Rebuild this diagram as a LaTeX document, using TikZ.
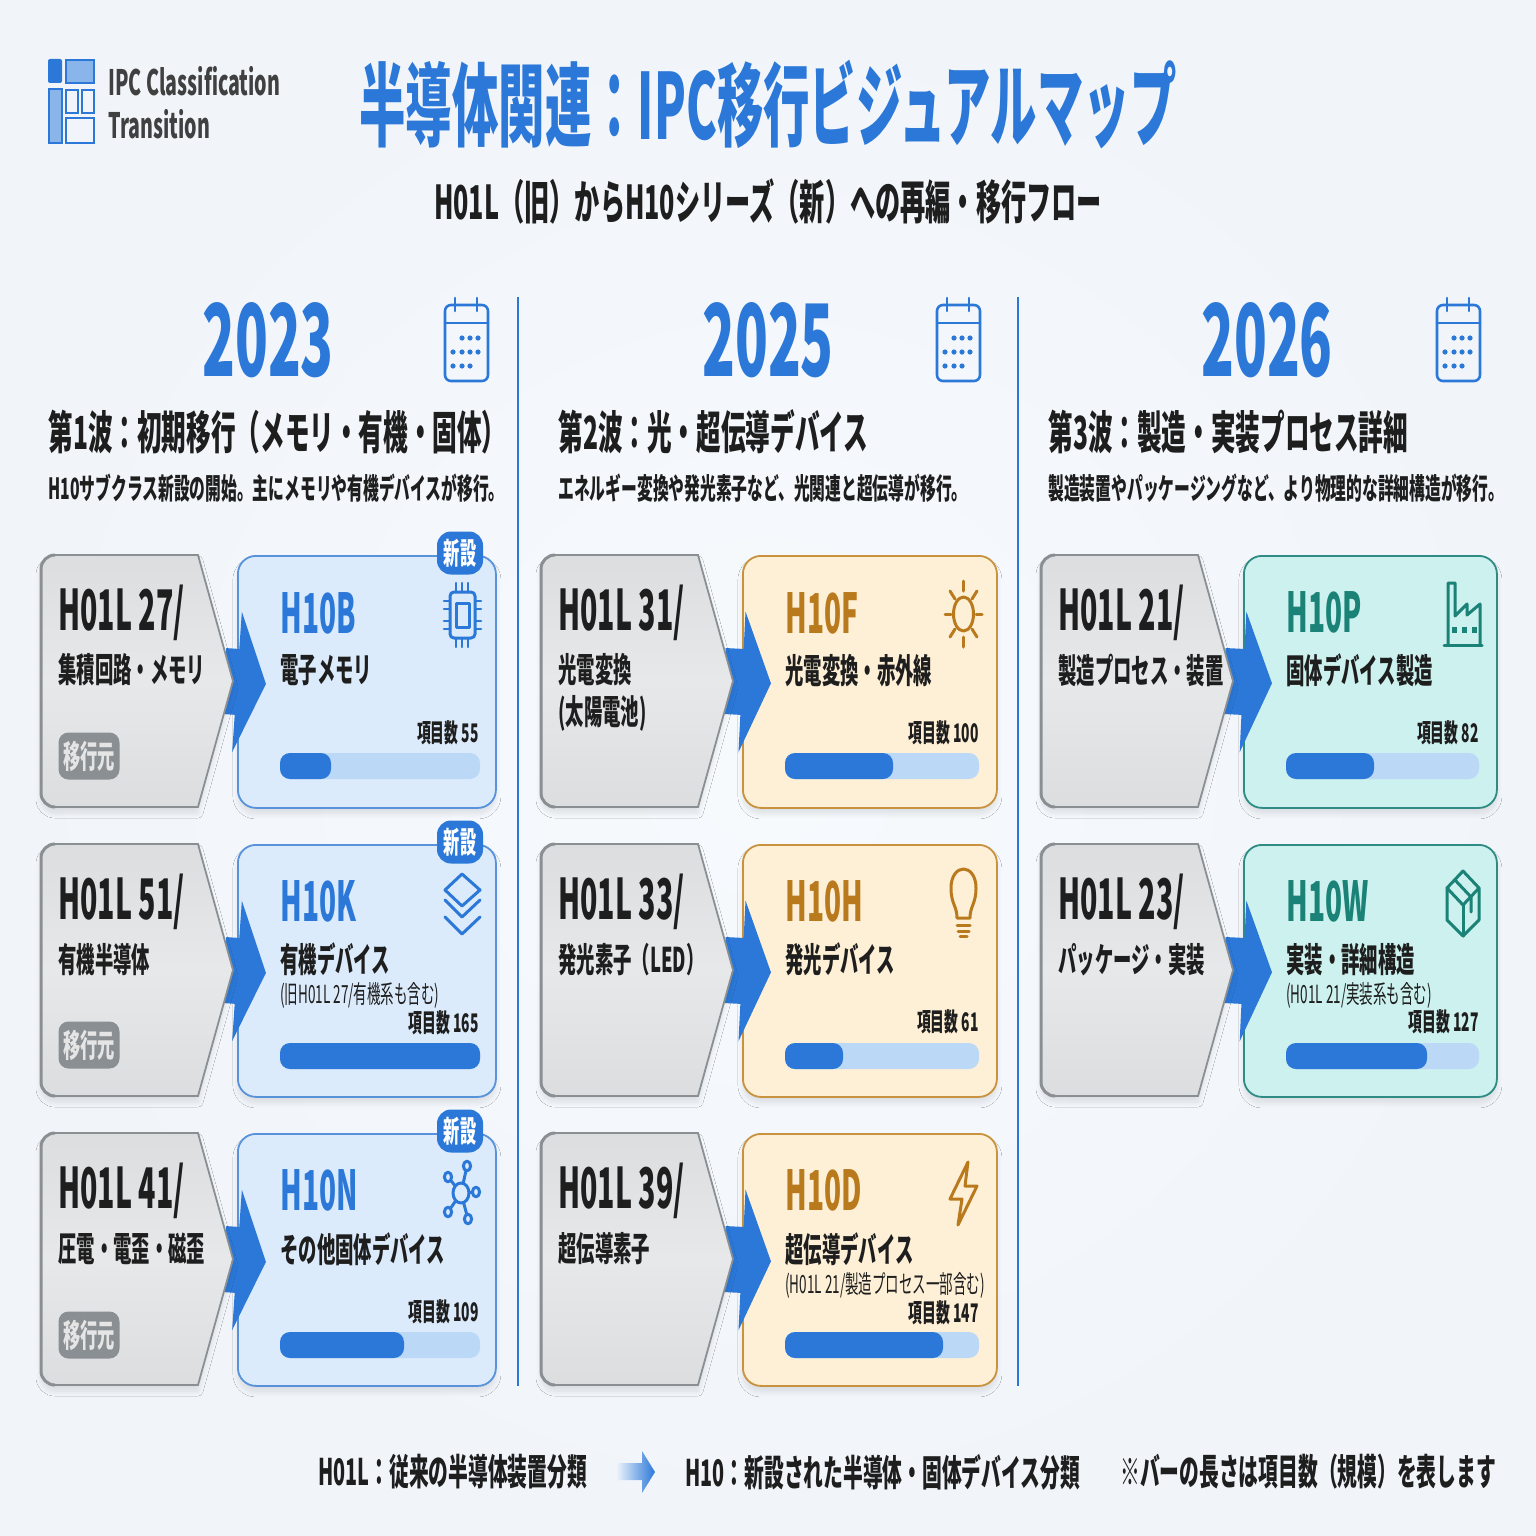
\documentclass[tikz,border=0pt]{standalone}
\usepackage{fontspec}
\usepackage{tikz}
\usetikzlibrary{arrows.meta}
\usetikzlibrary{shadows.blur}
\newfontfamily\jpfont[FakeStretch=0.54]{Noto Sans CJK JP}
\newfontfamily\jpnarrow[FakeStretch=0.51]{Noto Sans CJK JP}
\newfontfamily\jpwide[FakeStretch=0.56]{Noto Sans CJK JP}
\newcommand{\jpsize}[1]{\fontsize{#1}{#1}\selectfont}
\definecolor{paperColor}{HTML}{F1F5FA}
\definecolor{paperLight}{HTML}{F7FAFD}
\definecolor{focusColor}{HTML}{2B78D8}
\definecolor{inkColor}{HTML}{1E1E1E}
\definecolor{trackColor}{HTML}{BBD9F7}
\definecolor{grayEdge}{HTML}{8A8F93}
\definecolor{grayFill}{HTML}{E3E4E6}
\definecolor{blueFill}{HTML}{DCEBFB}
\definecolor{blueEdge}{HTML}{5792DA}
\definecolor{amberFill}{HTML}{FEF0D6}
\definecolor{amberEdge}{HTML}{C8923F}
\definecolor{amberInk}{HTML}{B97A1E}
\definecolor{tealFill}{HTML}{CCF1EE}
\definecolor{tealEdge}{HTML}{2E8C85}
\definecolor{tealInk}{HTML}{1A8276}

\begin{document}
\begin{tikzpicture}[x=0.5pt,y=-0.5pt]

  \tikzstyle{softShadow} = [blur shadow={shadow xshift=0pt,shadow yshift=-3pt,shadow blur radius=2.5pt,shadow blur steps=10,shadow opacity=10}];
  \tikzstyle{baseCard} = [anchor=north west,inner sep=0pt,minimum height=126pt,rounded corners=9pt,line width=0.9pt,softShadow];
  \tikzstyle{blueCard} = [baseCard,draw=blueEdge,fill=blueFill];
  \tikzstyle{amberCard} = [baseCard,draw=amberEdge,fill=amberFill];
  \tikzstyle{tealCard} = [baseCard,draw=tealEdge,fill=tealFill];
  \tikzstyle{grayCard} = [draw=grayEdge,line width=0.9pt,softShadow,top color=grayFill!97!black,bottom color=grayFill!97!black,middle color=grayFill!85!white];
  \tikzstyle{migrateArrow} = [focusColor,line width=33pt,-{Triangle[length=14.5pt,width=70pt]},shorten >=-14.5pt];
  \tikzstyle{plainText} = [inner sep=0pt,text=inkColor];
  \tikzstyle{titleText} = [plainText,text=focusColor,font=\jpnarrow\bfseries\jpsize{45.5pt}];
  \tikzstyle{subText} = [plainText,font=\jpfont\bfseries\jpsize{23.3pt}];
  \tikzstyle{yearText} = [plainText,text=focusColor,font=\jpfont\bfseries\jpsize{50pt}];
  \tikzstyle{waveText} = [plainText,anchor=west,font=\jpfont\bfseries\jpsize{22.8pt}];
  \tikzstyle{descText} = [plainText,anchor=west,font=\jpfont\bfseries\jpsize{14.6pt}];
  \tikzstyle{oldCode} = [plainText,anchor=west,font=\jpnarrow\bfseries\jpsize{28pt}];
  \tikzstyle{newCode} = [plainText,anchor=west,font=\jpnarrow\bfseries\jpsize{27.5pt}];
  \tikzstyle{nameText} = [plainText,anchor=west,font=\jpfont\bfseries\jpsize{17pt}];
  \tikzstyle{noteText} = [plainText,anchor=west,font=\jpfont\jpsize{12.5pt}];
  \tikzstyle{countText} = [plainText,anchor=east,font=\jpfont\bfseries\jpsize{12.8pt}];
  \tikzstyle{legendText} = [plainText,anchor=west,font=\jpfont\bfseries\jpsize{18.3pt}];
  \tikzstyle{logoText} = [plainText,anchor=west,text=inkColor!85,font=\jpwide\bfseries\jpsize{17.5pt}];
  \tikzstyle{oldBadge} = [fill=grayEdge,rounded corners=5pt,inner sep=0pt,minimum width=30.5pt,minimum height=23.5pt,text=white!90!black,font=\jpfont\bfseries\jpsize{16pt}];
  \tikzstyle{newBadge} = [fill=focusColor,rounded corners=7pt,inner sep=0pt,minimum width=23pt,minimum height=21.5pt,text=white,font=\jpfont\bfseries\jpsize{15pt}];
  \tikzstyle{blueIcon} = [focusColor,line width=1.5pt,line cap=round,line join=round];
  \tikzstyle{amberIcon} = [amberInk,line width=1.5pt,line cap=round,line join=round];
  \tikzstyle{tealIcon} = [tealInk,line width=1.5pt,line cap=round,line join=round];

  % page
  \shade[inner color=paperLight,outer color=paperColor] (0,0) rectangle (1536,1536);

  % header
  \fill[focusColor,rounded corners=1pt] (48,59) rectangle (62,83);
  \filldraw[draw=focusColor,fill=focusColor!55,line width=1pt] (66,60) rectangle (94,83);
  \filldraw[draw=focusColor,fill=focusColor!55,line width=1pt] (49,89) rectangle (62,143);
  \draw[focusColor,line width=1pt] (66,90) rectangle (78,113);
  \draw[focusColor,line width=1pt] (82,90) rectangle (94,113);
  \draw[focusColor,line width=1pt] (66,118) rectangle (94,143);
  \node[logoText] (logoA) at (108,81) {IPC Classification};
  \node[logoText] (logoB) at (108,124) {Transition};
  \node[titleText] (title) at (768,105) {半導体関連：IPC移行ビジュアルマップ};
  \node[subText] (subtitle) at (768,201) {H01L（旧）からH10シリーズ（新）への再編・移行フロー};

  % columns
  \draw[focusColor,line width=1pt] (518,297) -- (518,1386);
  \draw[focusColor,line width=1pt] (1018,297) -- (1018,1386);
  \node[yearText] (year23) at (268,340) {2023};
  \node[yearText] (year25) at (768,340) {2025};
  \node[yearText] (year26) at (1267,340) {2026};
  \foreach \x in {0,492,992} {
    \begin{scope}[shift={(\x,0)}]
      \draw[blueIcon,line width=1.3pt,rounded corners=3pt] (445,305) rectangle (488,381);
      \draw[blueIcon,line width=1.3pt] (445,323) -- (488,323);
      \draw[blueIcon,line width=1.3pt] (455,298) -- (455,311);
      \draw[blueIcon,line width=1.3pt] (477,298) -- (477,311);
      \foreach \dx/\dy in {462/338,470/338,478/338,453/352,462/352,470/352,478/352,453/366,462/366,470/366}
        \fill[focusColor] (\dx,\dy) circle (1.3pt);
    \end{scope}
  }
  \node[waveText] (waveA) at (48,432) {第1波：初期移行（メモリ・有機・固体）};
  \node[waveText] (waveB) at (558,432) {第2波：光・超伝導デバイス};
  \node[waveText] (waveC) at (1048,432) {第3波：製造・実装プロセス詳細};
  \node[descText] (descA) at (48,488) {H10サブクラス新設の開始。主にメモリや有機デバイスが移行。};
  \node[descText] (descB) at (558,488) {エネルギー変換や発光素子など、光関連と超伝導が移行。};
  \node[descText] (descC) at (1048,488) {製造装置やパッケージングなど、より物理的な詳細構造が移行。};

  % new cards
  \node[blueCard,minimum width=129pt] (dstB) at (237,555) {};
  \node[blueCard,minimum width=129pt] (dstK) at (237,844) {};
  \node[blueCard,minimum width=129pt] (dstN) at (237,1133) {};
  \node[amberCard,minimum width=127pt] (dstF) at (742,555) {};
  \node[amberCard,minimum width=127pt] (dstH) at (742,844) {};
  \node[amberCard,minimum width=127pt] (dstD) at (742,1133) {};
  \node[tealCard,minimum width=126.5pt] (dstP) at (1243,555) {};
  \node[tealCard,minimum width=126.5pt] (dstW) at (1243,844) {};

  % arrows, then the old cards over their tails
  \foreach \n/\x/\y in {B/224/681,K/224/970,N/224/1259,F/724/681,H/724/970,D/724/1259,P/1224/681,W/1224/970} {
    \coordinate (src\n) at (\x,\y);
    \draw[migrateArrow] (src\n) -- (dst\n.west);
  }
  \foreach \x/\y in {41/555,41/844,41/1133,541/555,541/844,541/1133,1041/555,1041/844} {
    \draw[grayCard] (\x+157,\y) -- (\x+192,\y+126) -- (\x+157,\y+252) [rounded corners=7pt] -- (\x,\y+252) -- (\x,\y) [sharp corners] -- cycle;
    \draw[grayEdge,line width=1.5pt,rounded corners=7pt] (\x+14,\y) -- (\x,\y) -- (\x,\y+252) -- (\x+14,\y+252);
  }

  % old card texts
  \node[oldCode] (old27) at (58,613) {H01L 27/};
  \node[nameText] (oldName27) at (58,670) {集積回路・メモリ};
  \node[oldBadge] (from27) at (89,756) {移行元};
  \node[oldCode] (old51) at (58,902) {H01L 51/};
  \node[nameText] (oldName51) at (58,960) {有機半導体};
  \node[oldBadge] (from51) at (89,1045) {移行元};
  \node[oldCode] (old41) at (58,1191) {H01L 41/};
  \node[nameText] (oldName41) at (58,1249) {圧電・電歪・磁歪};
  \node[oldBadge] (from41) at (89,1335) {移行元};
  \node[oldCode] (old31) at (558,613) {H01L 31/};
  \node[nameText] (oldName31) at (558,670) {光電変換};
  \node[nameText] (oldNote31) at (558,713) {(太陽電池)};
  \node[oldCode] (old33) at (558,902) {H01L 33/};
  \node[nameText] (oldName33) at (558,960) {発光素子（LED）};
  \node[oldCode] (old39) at (558,1191) {H01L 39/};
  \node[nameText] (oldName39) at (558,1249) {超伝導素子};
  \node[oldCode] (old21) at (1058,613) {H01L 21/};
  \node[nameText] (oldName21) at (1058,670) {製造プロセス・装置};
  \node[oldCode] (old23) at (1058,902) {H01L 23/};
  \node[nameText] (oldName23) at (1058,960) {パッケージ・実装};

  % new card texts
  \node[newCode,text=focusColor] (newB) at (280,613) {H10B};
  \node[nameText] (nameB) at (280,670) {電子メモリ};
  \node[countText] (countB) at (479,733) {項目数 55};
  \node[newBadge] (tagB) at (460,553) {新設};
  \node[newCode,text=focusColor] (newK) at (280,901) {H10K};
  \node[nameText] (nameK) at (280,959) {有機デバイス};
  \node[noteText] (noteK) at (280,995) {(旧H01L 27/有機系も含む)};
  \node[countText] (countK) at (479,1023) {項目数 165};
  \node[newBadge] (tagK) at (460,842) {新設};
  \node[newCode,text=focusColor] (newN) at (280,1190) {H10N};
  \node[nameText] (nameN) at (280,1249) {その他固体デバイス};
  \node[countText] (countN) at (479,1312) {項目数 109};
  \node[newBadge] (tagN) at (460,1131) {新設};
  \node[newCode,text=amberInk] (newF) at (785,613) {H10F};
  \node[nameText] (nameF) at (785,671) {光電変換・赤外線};
  \node[countText] (countF) at (979,733) {項目数 100};
  \node[newCode,text=amberInk] (newH) at (785,901) {H10H};
  \node[nameText] (nameH) at (785,959) {発光デバイス};
  \node[countText] (countH) at (979,1022) {項目数 61};
  \node[newCode,text=amberInk] (newD) at (785,1190) {H10D};
  \node[nameText] (nameD) at (785,1249) {超伝導デバイス};
  \node[noteText] (noteD) at (785,1285) {(H01L 21/製造プロセス一部含む)};
  \node[countText] (countD) at (979,1313) {項目数 147};
  \node[newCode,text=tealInk] (newP) at (1286,612) {H10P};
  \node[nameText] (nameP) at (1286,670) {固体デバイス製造};
  \node[countText] (countP) at (1479,733) {項目数 82};
  \node[newCode,text=tealInk] (newW) at (1286,901) {H10W};
  \node[nameText] (nameW) at (1286,960) {実装・詳細構造};
  \node[noteText] (noteW) at (1286,995) {(H01L 21/実装系も含む)};
  \node[countText] (countW) at (1479,1022) {項目数 127};

  % bars
  \foreach \xa/\ya/\xb/\xc in {280/753/480/331,280/1043/480/480,280/1332/480/404,785/753/979/893,785/1043/979/843,785/1332/979/943,1286/753/1479/1374,1286/1043/1479/1427} {
    \fill[trackColor,rounded corners=5pt] (\xa,\ya) rectangle (\xb,\ya+26);
    \fill[focusColor,rounded corners=5pt] (\xa,\ya) rectangle (\xc,\ya+26);
  }

  % icons
  \draw[blueIcon,rounded corners=2pt] (450,592) rectangle (475,638);
  \draw[blueIcon] (456,603) rectangle (469,627);
  \foreach \px in {456,462,468} {
    \draw[blueIcon,line width=1.2pt] (\px,583) -- (\px,592);
    \draw[blueIcon,line width=1.2pt] (\px,638) -- (\px,647);
  }
  \foreach \py in {601,609,621,629} {
    \draw[blueIcon,line width=1.2pt] (444,\py) -- (450,\py);
    \draw[blueIcon,line width=1.2pt] (475,\py) -- (481,\py);
  }
  \draw[blueIcon] (462,874) -- (480,890) -- (462,906) -- (445,890) -- cycle;
  \draw[blueIcon] (445,900) -- (462,917) -- (480,900);
  \draw[blueIcon] (445,917) -- (462,934) -- (480,917);
  \foreach \nx/\ny in {467/1166,476/1192,468/1219,448/1212,448/1177} {
    \draw[blueIcon] (461,1193) -- (\nx,\ny);
    \filldraw[blueIcon,fill=blueFill] (\nx,\ny) ellipse (1.8pt and 2.4pt);
  }
  \filldraw[blueIcon,fill=blueFill] (461,1193) ellipse (4pt and 5pt);
  \draw[amberIcon] (963.5,614) ellipse (5pt and 8.5pt);
  \draw[amberIcon] (963.5,581) -- (963.5,591);
  \draw[amberIcon] (963.5,637) -- (963.5,647);
  \draw[amberIcon] (945,614) -- (951,614);
  \draw[amberIcon] (976,614) -- (982,614);
  \draw[amberIcon] (950,591) -- (955,599);
  \draw[amberIcon] (977,591) -- (972,599);
  \draw[amberIcon] (950,637) -- (955,629);
  \draw[amberIcon] (977,637) -- (972,629);
  \draw[amberIcon] (957,918) .. controls (957,906) and (951,904) .. (951,888) .. controls (951,876) and (957,869) .. (963.5,869) .. controls (970,869) and (976,876) .. (976,888) .. controls (976,904) and (970,906) .. (970,918) -- cycle;
  \draw[amberIcon] (957,925) -- (970,925);
  \draw[amberIcon] (958,931) -- (969,931);
  \draw[amberIcon] (960,936) -- (967,936);
  \draw[amberIcon] (968,1162) -- (950,1199) -- (962,1199) -- (958,1225) -- (977,1186) -- (965,1186) -- cycle;
  \draw[tealIcon] (1444,645) -- (1482,645);
  \draw[tealIcon] (1448,645) -- (1448,583) -- (1455,583) -- (1455,616) -- (1467,604) -- (1467,615) -- (1480,604) -- (1480,645);
  \foreach \wx in {1452,1462,1472}
    \fill[tealInk] (\wx,627) rectangle (\wx+5,633);
  \draw[tealIcon] (1463,871) -- (1479,888) -- (1479,920) -- (1463,936) -- (1447,920) -- (1447,888) -- cycle;
  \draw[tealIcon] (1447,888) -- (1463,905) -- (1479,888);
  \draw[tealIcon] (1463,905) -- (1463,936);
  \draw[tealIcon] (1455,880) -- (1471,897) -- (1471,912);

  % legend
  \node[legendText] (legendOld) at (318,1472) {H01L：従来の半導体装置分類};
  \shade[left color=focusColor!10,right color=focusColor] (617,1463) -- (642,1463) -- (642,1451) -- (655,1472) -- (642,1493) -- (642,1480) -- (617,1480) -- cycle;
  \node[legendText] (legendNew) at (685,1472) {H10：新設された半導体・固体デバイス分類};
  \node[legendText] (legendBar) at (1120,1472) {※バーの長さは項目数（規模）を表します};
\end{tikzpicture}
\end{document}
